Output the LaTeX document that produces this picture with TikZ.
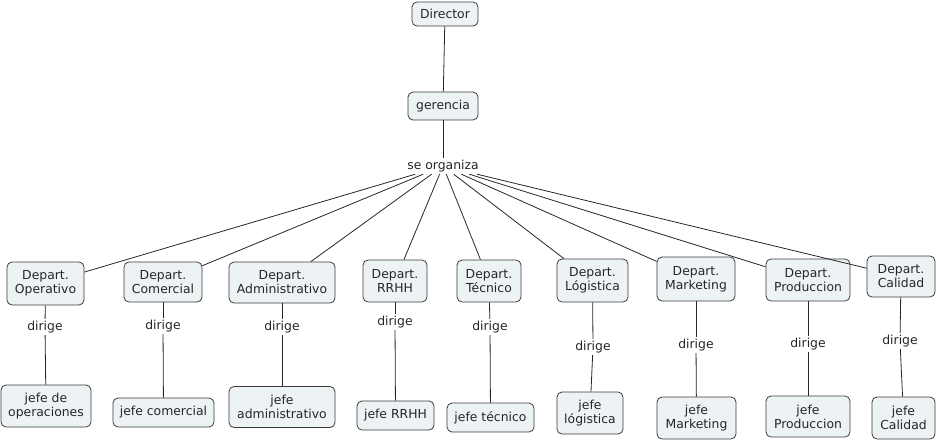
\documentclass[tikz,border=0pt]{standalone}
\usepackage{fontspec}
\setmainfont{DejaVu Sans}
\definecolor{conceptfill}{RGB}{237,242,245}
\definecolor{conceptborder}{RGB}{60,60,60}
\begin{document}
\begin{tikzpicture}[x=1pt,y=-1pt,
 concept/.style={draw=conceptborder, fill=conceptfill, rounded corners=5pt, line width=0.8pt,
   align=center, font=\fontsize{12.4}{14}\selectfont, inner sep=2pt, text=black!85},
 linkword/.style={font=\fontsize{12.4}{14}\selectfont, inner sep=2pt, text=black!85},
 conn/.style={line width=0.8pt, draw=black!85}]
\useasboundingbox (0,0) rectangle (936,442);

\node[concept, minimum width=66pt, minimum height=24pt] (director) at (445,14) {Director};
\node[concept, minimum width=70pt, minimum height=28pt] (gerencia) at (443,106) {gerencia};
\node[linkword] (seorg) at (443,166) {se organiza};

% departments
\node[concept, minimum width=77pt, minimum height=43pt] (dop) at (45.5,283.5) {Depart.\\Operativo};
\node[concept, minimum width=78pt, minimum height=40pt] (dcom) at (163,282) {Depart.\\Comercial};
\node[concept, minimum width=106pt, minimum height=41pt] (dadm) at (282,282.5) {Depart.\\Administrativo};
\node[concept, minimum width=64pt, minimum height=42pt] (drrhh) at (395,281) {Depart.\\RRHH};
\node[concept, minimum width=64pt, minimum height=42pt] (dtec) at (489,281) {Depart.\\Técnico};
\node[concept, minimum width=71pt, minimum height=43pt] (dlog) at (592.5,280.5) {Depart.\\Lógistica};
\node[concept, minimum width=78pt, minimum height=44pt] (dmkt) at (696,279) {Depart.\\Marketing};
\node[concept, minimum width=84pt, minimum height=42pt] (dprod) at (808,280) {Depart.\\Produccion};
\node[concept, minimum width=68pt, minimum height=41pt] (dcal) at (901,276.5) {Depart.\\Calidad};

% dirige labels
\node[linkword] (lop) at (45,327) {dirige};
\node[linkword] (lcom) at (163,326) {dirige};
\node[linkword] (ladm) at (282,327) {dirige};
\node[linkword] (lrrhh) at (395,322) {dirige};
\node[linkword] (ltec) at (490,327) {dirige};
\node[linkword] (llog) at (593,347) {dirige};
\node[linkword] (lmkt) at (696,345) {dirige};
\node[linkword] (lprod) at (808,344) {dirige};
\node[linkword] (lcal) at (900,341) {dirige};

% jefes
\node[concept, minimum width=90pt, minimum height=42pt] (jop) at (46,406) {jefe de\\operaciones};
\node[concept, minimum width=101pt, minimum height=29pt] (jcom) at (163.5,412.5) {jefe comercial};
\node[concept, minimum width=106pt, minimum height=41pt] (jadm) at (282,407) {jefe\\administrativo};
\node[concept, minimum width=77pt, minimum height=29pt] (jrrhh) at (395.5,415.5) {jefe RRHH};
\node[concept, minimum width=87pt, minimum height=29pt] (jtec) at (490.5,417.5) {jefe técnico};
\node[concept, minimum width=66pt, minimum height=42pt] (jlog) at (590,413) {jefe\\lógistica};
\node[concept, minimum width=79pt, minimum height=42pt] (jmkt) at (696.5,418) {jefe\\Marketing};
\node[concept, minimum width=84pt, minimum height=41pt] (jprod) at (808,416.5) {jefe\\Produccion};
\node[concept, minimum width=63pt, minimum height=42pt] (jcal) at (903.5,418) {jefe\\Calidad};

% connectors
\draw[conn] (director) -- (gerencia);
\draw[conn] (gerencia) -- (seorg);
\foreach \d in {dop,dcom,dadm,drrhh,dtec,dlog,dmkt,dprod,dcal}
  \draw[conn] (seorg) -- (\d);
\draw[conn] (dop) -- (lop);   \draw[conn] (lop) -- (jop);
\draw[conn] (dcom) -- (lcom); \draw[conn] (lcom) -- (jcom);
\draw[conn] (dadm) -- (ladm); \draw[conn] (ladm) -- (jadm);
\draw[conn] (drrhh) -- (lrrhh); \draw[conn] (lrrhh) -- (jrrhh);
\draw[conn] (dtec) -- (ltec); \draw[conn] (ltec) -- (jtec);
\draw[conn] (dlog) -- (llog); \draw[conn] (llog) -- (jlog);
\draw[conn] (dmkt) -- (lmkt); \draw[conn] (lmkt) -- (jmkt);
\draw[conn] (dprod) -- (lprod); \draw[conn] (lprod) -- (jprod);
\draw[conn] (dcal) -- (lcal); \draw[conn] (lcal) -- (jcal);
\end{tikzpicture}
\end{document}
